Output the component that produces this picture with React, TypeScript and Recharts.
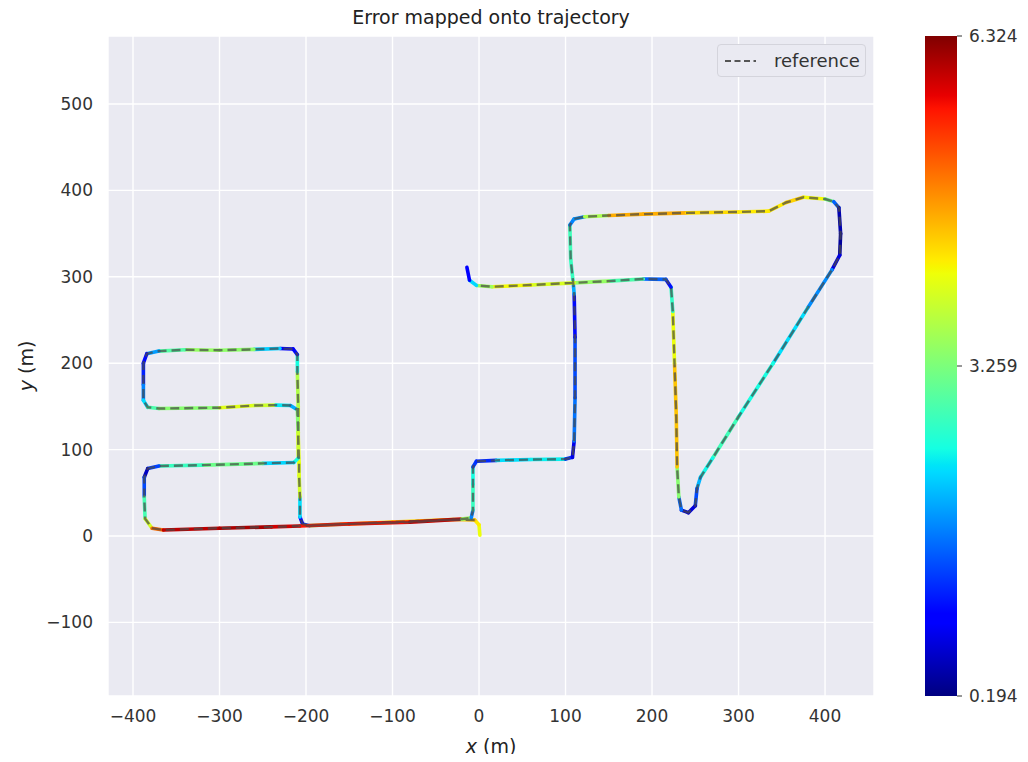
import React from 'react'
import {
  ComposedChart,
  Line,
  XAxis,
  YAxis,
  CartesianGrid,
  BarChart,
  Bar,
} from 'recharts'

// trajectory waypoints (m) and the error at each one
const pathX = [
  1, 0, -5, -30, -100, -160, -196, -204, -207, -207, -208, -208, -209, -209, -210, -210, -215, -230,
  -260, -300, -340, -370, -384, -388, -388, -388, -383, -370, -300, -260, -235, -218, -210, -209,
  -209, -214, -250, -320, -370, -383, -387, -387, -386, -378, -365, -300, -240, -207, -150, -80, -20,
  -9, -7, -7, -7, -3, 20, 60, 100, 108, 110, 111, 111, 110, 109, 106, 105, 110, 122, 150, 190, 240,
  300, 335, 355, 375, 400, 410, 416, 418, 417, 408, 380, 340, 300, 270, 256, 252, 250, 242, 234, 231,
  229, 228, 226, 224, 222, 216, 190, 150, 110, 60, 15, -3, -11, -14,
]
const pathY = [
  1, 13, 18.5, 19, 16, 13.5, 12, 14, 22, 45, 70, 84, 115, 150, 190, 210, 216.5, 217, 216, 215, 215.5,
  214, 211, 200, 175, 157, 149, 147.5, 148.5, 151, 151.5, 151, 146, 120, 90, 85, 84, 82, 81, 78, 68,
  45, 20, 9, 7, 9, 10.5, 11.5, 14, 16, 19.5, 21, 30, 60, 80, 86.5, 87.5, 88.5, 89, 91, 110, 160, 230,
  280, 292, 320, 360, 367, 369.5, 371, 372.5, 374, 375, 376, 386, 392, 390, 387, 380, 350, 325, 308,
  264, 200, 138, 90, 68, 55, 35, 27, 30, 45, 80, 140, 200, 260, 288, 297, 297.5, 295, 293, 290.5,
  288.5, 290, 296, 311,
]
const pathErr = [
  4.2, 4.0, 4.5, 4.6, 4.2, 4.6, 2.0, 0.8, 1.0, 3.6, 4.2, 3.8, 4.3, 3.8, 3.5, 1.5, 0.5, 1.2, 3.2, 3.6,
  3.3, 2.6, 1.2, 0.8, 1.5, 2.0, 2.6, 3.2, 3.5, 4.5, 3.2, 1.5, 2.5, 4.2, 3.5, 1.5, 3.0, 3.3, 2.2, 0.5,
  0.6, 2.2, 3.5, 4.3, 5.8, 6.2, 6.0, 5.8, 5.5, 5.9, 6.0, 1.0, 2.5, 3.0, 2.0, 0.6, 1.8, 2.8, 2.0, 0.5,
  1.0, 2.3, 0.5, 1.5, 2.5, 3.0, 2.6, 0.9, 2.8, 4.4, 4.9, 4.4, 4.3, 4.2, 4.3, 4.5, 3.8, 2.5, 0.6, 0.3,
  0.4, 1.0, 2.6, 2.0, 3.0, 2.6, 2.3, 1.8, 1.0, 0.4, 0.8, 2.4, 4.3, 4.7, 4.3, 3.9, 1.5, 0.6, 2.5, 3.3,
  3.6, 4.3, 4.0, 3.0, 1.5, 0.4,
]

const xTicks = [-400, -300, -200, -100, 0, 100, 200, 300, 400]
const yTicks = [-100, 0, 100, 200, 300, 400, 500]
const errTicks = [0.194, 3.259, 6.324]
const errMin = 0.194
const errMax = 6.324

const interp = (pts: number[][], t: number) => {
  for (let i = 1; i < pts.length; i++) {
    if (t <= pts[i][0]) {
      const [t0, v0] = pts[i - 1]
      const [t1, v1] = pts[i]
      return v0 + ((v1 - v0) * (t - t0)) / (t1 - t0)
    }
  }
  return pts[pts.length - 1][1]
}

// matplotlib "jet"
const jet = (t: number) => {
  const c = Math.max(0, Math.min(1, t))
  const r = interp([[0, 0], [0.35, 0], [0.66, 1], [0.89, 1], [1, 0.5]], c)
  const g = interp([[0, 0], [0.125, 0], [0.375, 1], [0.64, 1], [0.91, 0], [1, 0]], c)
  const b = interp([[0, 0.5], [0.11, 1], [0.34, 1], [0.65, 0], [1, 0]], c)
  const h = (v: number) => Math.round(v * 255).toString(16).padStart(2, '0')
  return `#${h(r)}${h(g)}${h(b)}`
}

const jetStops = [0, 0.11, 0.125, 0.34, 0.35, 0.375, 0.64, 0.65, 0.66, 0.89, 0.91, 1]

const points = pathX.map((x, i) => ({ x, y: pathY[i], err: pathErr[i] }))
const segments = points.slice(1).map((p, i) => ({
  data: [points[i], p],
  color: jet(((points[i].err + p.err) / 2 - errMin) / (errMax - errMin)),
}))
const reference = points.slice(2, points.length - 2)

const minus = (v: number) => String(v).replace('-', '\u2212')
const tickStyle = { fontSize: 17, fill: '#333', fontFamily: 'DejaVu Sans' }

const XLabel = (props: any) => {
  const vb = props.viewBox
  return (
    <text x={vb.x + vb.width / 2} y={753} textAnchor="middle" fontSize={19} fill="#222" fontFamily="DejaVu Sans">
      <tspan fontStyle="italic">x</tspan> (m)
    </text>
  )
}

const YLabel = (props: any) => {
  const vb = props.viewBox
  const cy = vb.y + vb.height / 2
  return (
    <text x={33} y={cy} textAnchor="middle" fontSize={19} fill="#222" fontFamily="DejaVu Sans" transform={`rotate(-90 33 ${cy})`}>
      <tspan fontStyle="italic">y</tspan> (m)
    </text>
  )
}

export default function App() {
  return (
    <div style={{ position: 'relative', width: 1028, height: 762, margin: -8, background: '#fff', fontFamily: 'DejaVu Sans' }}>
      <div style={{ position: 'absolute', top: 6, left: 108, width: 766, textAlign: 'center', fontSize: 19, color: '#222' }}>
        Error mapped onto trajectory
      </div>
      <div style={{ position: 'absolute', top: 0, left: 0 }}>
        <ComposedChart width={1028} height={762} margin={{ top: 36, right: 154, bottom: 0, left: 0 }}>
          <CartesianGrid fill="#EAEAF2" stroke="#fff" strokeWidth={1.4} />
          <XAxis
            dataKey="x"
            type="number"
            domain={[-428.9, 456.6]}
            ticks={xTicks}
            allowDataOverflow
            axisLine={false}
            tickLine={false}
            tickMargin={8}
            tick={tickStyle}
            tickFormatter={minus}
            height={66}
            label={{ content: XLabel }}
          />
          <YAxis
            dataKey="y"
            type="number"
            domain={[-185.2, 578.7]}
            ticks={yTicks}
            allowDataOverflow
            axisLine={false}
            tickLine={false}
            tickMargin={9}
            tick={tickStyle}
            tickFormatter={minus}
            width={108}
            label={{ content: YLabel }}
          />
          {segments.map((s, i) => (
            <Line
              key={i}
              data={s.data}
              dataKey="y"
              type="linear"
              stroke={s.color}
              strokeWidth={3.6}
              strokeLinecap="round"
              dot={false}
              activeDot={false}
              legendType="none"
              isAnimationActive={false}
            />
          ))}
          <Line
            data={reference}
            dataKey="y"
            name="reference"
            type="linear"
            stroke="#4a4a4a"
            strokeOpacity={0.72}
            strokeWidth={2.4}
            strokeDasharray="9 5"
            dot={false}
            activeDot={false}
            isAnimationActive={false}
          />
        </ComposedChart>
      </div>
      <div
        style={{
          position: 'absolute',
          left: 717,
          top: 44,
          width: 147,
          height: 31,
          border: '1px solid #d4d4dc',
          borderRadius: 4,
          background: '#EAEAF2',
          display: 'flex',
          alignItems: 'center',
          fontSize: 18,
          color: '#333',
        }}
      >
        <svg width={48} height={30}>
          <line x1={7} y1={15} x2={38} y2={15} stroke="#555" strokeWidth={2} strokeDasharray="6 3.5" />
        </svg>
        <span style={{ marginLeft: 8 }}>reference</span>
      </div>
      <div style={{ position: 'absolute', top: 0, left: 925 }}>
        <BarChart width={103} height={762} data={[{ name: 'err', range: [errMin, errMax] }]} margin={{ top: 36, right: 0, bottom: 66, left: 0 }} barCategoryGap={0}>
          <defs>
            <linearGradient id="jetGrad" x1="0" y1="1" x2="0" y2="0">
              {jetStops.map((t) => (
                <stop key={t} offset={t} stopColor={jet(t)} />
              ))}
            </linearGradient>
          </defs>
          <XAxis dataKey="name" hide />
          <YAxis
            orientation="right"
            type="number"
            domain={[errMin, errMax]}
            ticks={errTicks}
            allowDataOverflow
            axisLine={false}
            tickLine={{ stroke: '#333' }}
            tickSize={5}
            tickMargin={7}
            tick={tickStyle}
            width={71}
          />
          <Bar dataKey="range" fill="url(#jetGrad)" isAnimationActive={false} />
        </BarChart>
      </div>
    </div>
  )
}
